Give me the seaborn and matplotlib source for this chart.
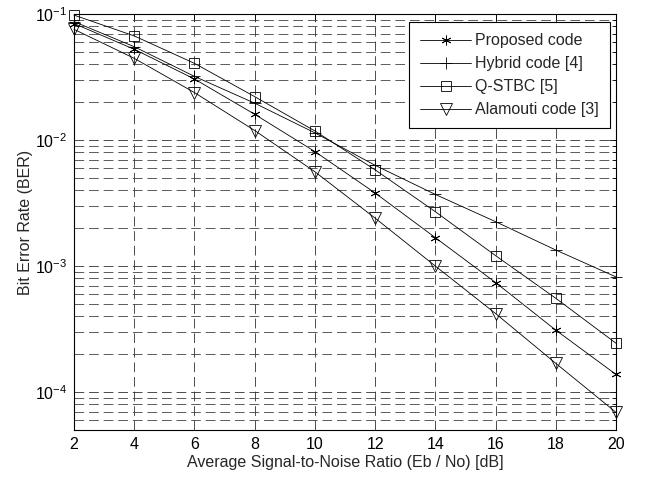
import numpy as np
import pandas as pd
import matplotlib
matplotlib.use("Agg")
import matplotlib.pyplot as plt
import seaborn as sns
from matplotlib.ticker import LogLocator, FixedLocator

sns.set_style("white")
plt.rcParams['font.family'] = ['Liberation Sans', 'DejaVu Sans']
plt.rcParams['mathtext.default'] = 'regular'
plt.rcParams['lines.scale_dashes'] = False

snr = [2, 4, 6, 8, 10, 12, 14, 16, 18, 20]
proposed = [0.084, 0.0525, 0.0305, 0.016, 0.0081, 0.0038, 0.00168, 0.00074, 0.00031, 0.000138]
hybrid = [0.087, 0.055, 0.032, 0.0196, 0.0114, 0.0063, 0.0037, 0.00225, 0.00134, 0.00082]
qstbc = [0.098, 0.067, 0.0406, 0.0221, 0.0118, 0.0058, 0.0027, 0.00121, 0.000555, 0.000244]
alamouti = [0.0756, 0.0445, 0.0238, 0.0119, 0.0056, 0.0024, 0.00100, 0.00042, 0.000169, 0.000069]

labels = ["Proposed code", "Hybrid code [4]", "Q-STBC [5]", "Alamouti code [3]"]
series = [proposed, hybrid, qstbc, alamouti]
markers = [(6, 2, 0), '+', 's', 'v']
msizes = [7, 8, 7, 8]

FS = 11.5

fig = plt.figure(figsize=(6.49, 4.80), dpi=100)
ax = fig.add_axes([74/649, 1-430/480, (616-74)/649, (430-14)/480])

for lab, vals, mk, ms in zip(labels, series, markers, msizes):
    df = pd.DataFrame({"snr": snr, "ber": vals})
    sns.lineplot(data=df, x="snr", y="ber", ax=ax, color='k', lw=0.6,
                 marker=mk, markersize=ms, markerfacecolor='none',
                 markeredgecolor='k', markeredgewidth=0.6, label=lab,
                 clip_on=False, zorder=5)

ax.set_yscale('log')
ax.set_xlim(2, 20)
ax.set_ylim(5e-5, 1e-1)
ax.set_xticks(snr)
ax.yaxis.set_major_locator(LogLocator(base=10, numticks=10))
ax.yaxis.set_minor_locator(LogLocator(base=10, subs=np.arange(2, 10), numticks=20))
ax.xaxis.set_minor_locator(FixedLocator([]))

ax.grid(True, which='major', axis='both', color='#303030', lw=0.6, linestyle=(0, (7, 3.5)))
ax.grid(True, which='minor', axis='y', color='#404040', lw=0.6, linestyle=(0, (7, 3.5)))

ax.tick_params(which='both', direction='in', top=True, right=True, labelsize=FS, colors='k')
ax.tick_params(which='major', length=5, width=0.6, pad=5)
ax.tick_params(which='minor', length=3, width=0.6)
for s in ax.spines.values():
    s.set_color('k')
    s.set_linewidth(0.8)
    s.set_visible(True)
    s.set_zorder(6)

ax.set_xlabel("Average Signal-to-Noise Ratio (Eb / No) [dB]", fontsize=FS, labelpad=2)
ax.set_ylabel("Bit Error Rate (BER)", fontsize=FS, labelpad=1)

leg = ax.legend(loc='upper right', bbox_to_anchor=((610-74)/542, (430-22)/416),
                borderaxespad=0, fancybox=False, framealpha=1, edgecolor='k',
                fontsize=FS, handlelength=3.2, handletextpad=0.25,
                labelspacing=0.5, borderpad=0.7)
leg.get_frame().set_linewidth(0.8)
leg.set_zorder(10)

fig.savefig("out.png", dpi=100, facecolor='white')
